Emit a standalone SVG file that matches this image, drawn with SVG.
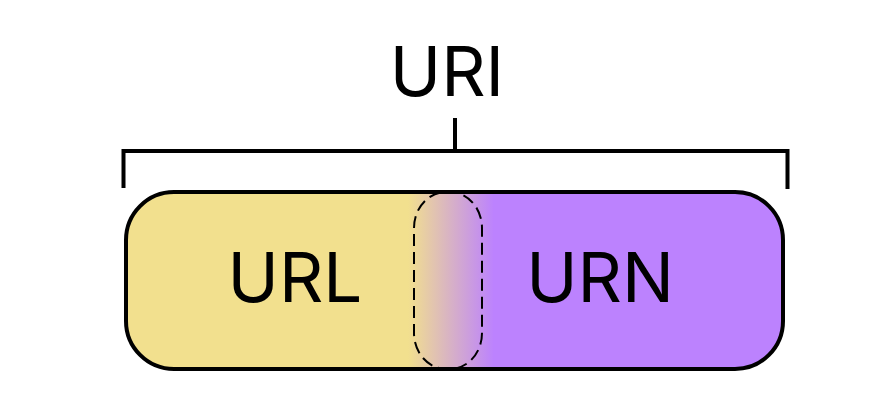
<svg xmlns="http://www.w3.org/2000/svg" width="886" height="404" viewBox="0 0 886 404">
<style>
.lbl{font-family:Inter,"Liberation Sans",sans-serif;font-size:69px;fill:#000;text-anchor:middle}
.ln{fill:none;stroke:#000;stroke-width:4;stroke-linecap:butt}
</style>
<defs>
<linearGradient id="mix" x1="0" y1="0" x2="1" y2="0">
<stop offset="0" stop-color="#F2E08E"/>
<stop offset="1" stop-color="#BC82FE"/>
</linearGradient>
<clipPath id="clip"><rect x="126" y="192" width="657" height="177" rx="48"/></clipPath>
</defs>
<rect width="886" height="404" fill="#fff"/>
<g id="connectors">
<path class="ln" d="M123.5,188 V151 H787.5 V189 M455,118 V151"/>
</g>
<g id="uri"><text class="lbl" x="447" y="96">URI</text></g>
<g id="container">
<g clip-path="url(#clip)">
<rect x="126" y="192" width="284" height="177" fill="#F2E08E"/>
<rect x="408" y="192" width="86" height="177" fill="url(#mix)"/>
<rect x="493" y="192" width="291" height="177" fill="#BC82FE"/>
</g>
<rect x="126" y="192" width="657" height="177" rx="48" fill="none" stroke="#000" stroke-width="4"/>
</g>
<g id="overlap">
<rect x="414" y="192" width="68" height="177" rx="32" ry="36" fill="none" stroke="#000" stroke-width="2" stroke-dasharray="12,6"/>
</g>
<g id="url"><text class="lbl" x="295" y="302">URL</text></g>
<g id="urn"><text class="lbl" x="600" y="302">URN</text></g>
</svg>
